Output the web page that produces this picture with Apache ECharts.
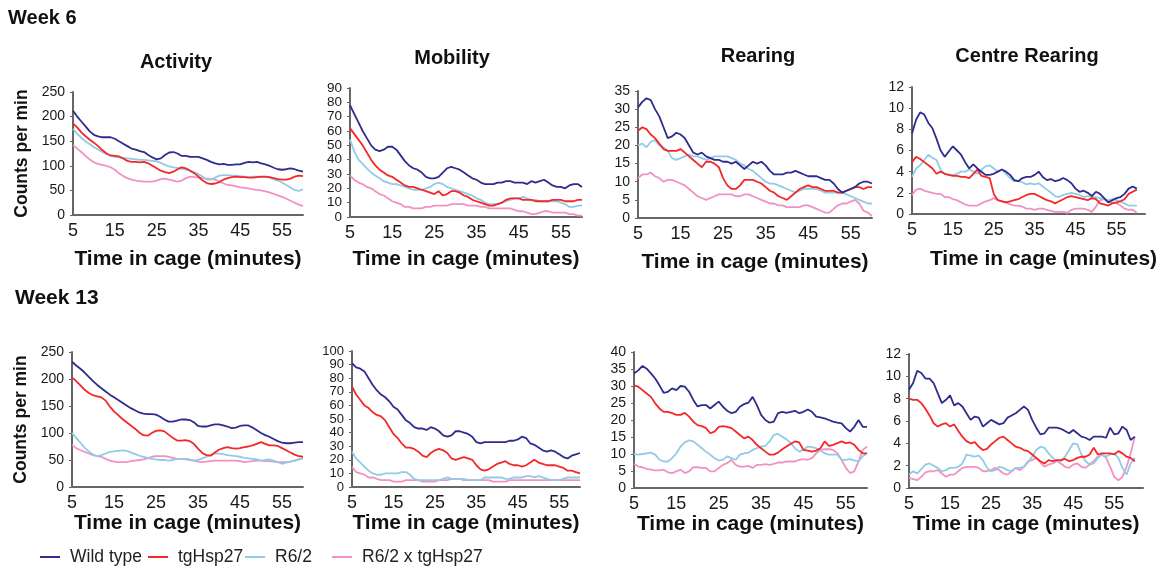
<!DOCTYPE html>
<html><head><meta charset="utf-8">
<script src="https://cdn.jsdelivr.net/npm/echarts@6/dist/echarts.min.js"></script>
<style>html,body{margin:0;padding:0;background:#fff;}#c{width:1168px;height:573px;}</style>
</head><body><div id="c"></div>
<script>
// ---------- DATA ----------
const minutes = [5,6,7,8,9,10,11,12,13,14,15,16,17,18,19,20,21,22,23,24,25,26,27,28,29,30,31,32,33,34,35,36,37,38,39,40,41,42,43,44,45,46,47,48,49,50,51,52,53,54,55,56,57,58,59,60];
const minutesExt = minutes.concat([61,62]);
const seriesNames = ['Wild type','tgHsp27','R6/2','R6/2 x tgHsp27'];

// Week 6
const act6_wt = [212,200,190,180,170,163,160,158,158,158,155,150,145,140,135,133,130,128,122,117,113,115,122,127,128,125,120,120,118,118,118,115,112,108,105,103,104,102,102,103,103,106,108,107,108,105,103,100,96,93,92,93,95,93,90,88];
const act6_tg = [186,178,168,160,153,147,140,132,125,121,120,119,115,110,108,108,107,108,105,100,95,90,87,85,88,93,97,95,90,85,78,70,65,63,64,67,72,75,77,78,77,77,76,76,77,78,78,77,75,73,72,72,74,78,80,79];
const act6_r62 = [175,165,157,150,144,138,133,128,124,120,118,117,116,115,114,113,112,112,111,110,109,106,102,99,97,96,94,92,90,87,83,78,72,72,76,80,81,81,80,80,79,78,77,78,78,77,77,76,73,70,66,61,56,51,49,52];
const act6_r62tg = [142,135,128,120,113,107,104,102,100,97,92,85,79,75,72,70,69,68,68,68,70,73,74,72,70,68,70,75,78,77,76,75,74,73,72,68,64,61,60,58,56,55,54,52,51,50,48,46,43,40,37,33,29,25,21,18];

const mob6_wt = [78,72,66,60,55,50,47,46,47,49,49,47,43,39,36,34,33,31,28,27,27,28,31,34,35,34,33,31,29,27,26,24,23,23,23,24,24,25,25,24,24,24,23,25,24,25,26,24,22,21,21,20,22,23,23,21];
const mob6_tg = [62,58,54,50,45,40,36,33,31,29,28,26,24,22,21,21,20,19,18,17,16,18,15,16,18,18,17,15,14,12,11,10,9,8,8,9,10,12,13,13,13,12,12,12,11,11,11,11,12,12,12,11,11,11,12,12];
const mob6_r62 = [54,46,40,37,34,31,29,27,25,24,23,23,22,21,20,19,19,19,20,21,23,24,23,21,20,19,18,17,16,15,13,12,10,9,9,9,10,11,12,13,13,14,13,12,12,11,11,11,11,11,10,9,7,7,8,8];
const mob6_r62tg = [29,26,24,23,21,20,18,16,15,13,11,10,9,7,7,6,6,6,7,7,8,8,8,8,9,9,9,9,8,8,8,7,7,6,6,6,6,6,6,5,4,4,3,2,2,3,4,4,3,3,3,3,2,2,1,1];

const rear6_wt = [30.5,32,33,32.5,30,28,25,22,22.5,23.5,23,22,20,18,17.5,18,17,16.5,16,16,15.5,15.5,15,15.5,14.5,13.5,14.5,15.5,15,15.5,14.5,13,12,12,12,12.5,12.5,13,12.5,12,11.5,11.5,11.5,11,10.5,10.5,9.5,8,7,7.5,8,8.5,9.5,10,10,9.5];
const rear6_tg = [24,25,24.5,23,22,20.5,19,18.5,18.5,18.5,19,18,17,16,15,14,15.5,15.5,15,14,11,9,8,8,9,10.5,10.5,10.5,10,9.5,8.5,7.5,7,6,5.5,5,6,7,8,8.5,9,8.5,8.5,8,7.5,7.5,7.5,7,7,7.5,8,8.5,8.5,8,8.5,8.5];
const rear6_r62 = [20,20.5,19.5,21,21.5,20,19.5,18.5,16.5,16,16.5,17,17.5,17,17,16.5,16,16.5,17,17,17,17,16.5,16,15,14.5,13.5,13,12,11,10,9.5,9.5,9,8.5,8,7.5,7,7.5,8,8,8,8,7.5,7,7,7,7,7,6.5,6,5.5,5,4.5,4,4];
const rear6_r62tg = [11,12,12,12.5,11.5,11,10,10.5,10.5,10,9.5,9,8,7,6,5.5,5,5.5,6,6.5,6.5,6.5,6.5,6,6,6.5,6.5,6,5.5,5,4.5,4,4,3.5,3.5,3,3,3,3,3.5,3.5,3,2.5,2,1.5,1.5,2.5,3.5,4,4,4.5,5,4,2,1.5,0.5];

const cen6_wt = [7.6,8.9,9.6,9.4,8.6,8.1,7.1,6,5.4,5.9,6.4,6,5.6,4.9,4.3,4.7,4.3,4,3.7,3.7,3.8,4,4.2,4,3.7,3.2,3.1,3.4,3.5,3.5,3.7,4,3.5,3.2,3.3,3.1,3.2,3.4,3.2,2.9,2.4,2.1,2.2,2,1.7,2.1,1.9,1.5,1.1,1.3,1.5,1.6,1.9,2.4,2.6,2.4];
const cen6_tg = [4.9,5.4,5.2,4.9,4.6,4.3,3.8,4,3.8,3.7,3.6,3.6,3.5,3.5,3.4,3.8,4.2,3.6,3.5,3.4,1.9,1.3,1.2,1.1,1.2,1.3,1.4,1.6,1.8,1.9,1.9,1.7,1.5,1.3,1.2,1,1.2,1.4,1.6,1.7,1.6,1.5,1.4,1.3,1.5,1.4,1,0.9,0.8,1,1.1,1.2,1.4,1.9,2.1,2.3];
const cen6_r62 = [3.5,4.3,4.6,5.1,5.6,5.3,5.1,4.2,3.8,3.7,3.7,3.8,4,4,4.2,4,3.8,4.2,4.5,4.6,4.3,4,4.2,3.8,3.4,3.1,3.1,3,2.8,2.9,2.8,2.9,2.6,2.3,2,1.7,1.6,1.8,1.9,2,1.9,1.8,1.6,1.7,1.6,1.6,1.5,1.4,1.3,1.4,1.3,1.2,1,0.8,0.8,0.8];
const cen6_r62tg = [1.8,2.3,2.4,2.2,2.1,2,1.9,1.9,1.6,1.6,1.4,1.3,1.1,0.9,0.8,0.8,0.8,1,1.2,1.3,1.5,1.3,1.2,1.1,0.9,0.8,0.8,0.7,0.5,0.5,0.4,0.5,0.5,0.4,0.3,0.2,0.2,0.2,0.1,0.4,0.5,0.5,0.5,0.4,0.2,0.7,1.3,1.4,1.2,1.1,1,0.8,0.5,0.4,0.4,0.1];

// Week 13
const act13_wt = [232,225,219,212,204,196,189,183,177,171,166,161,156,151,146,142,138,136,135,135,134,130,125,121,121,123,125,125,124,120,113,112,112,114,116,116,114,112,109,110,113,114,114,110,105,100,96,93,89,85,82,81,81,82,83,83];
const act13_tg = [203,196,188,180,174,170,168,166,160,149,140,133,126,120,114,108,101,96,95,100,104,105,103,97,91,86,86,87,85,80,71,63,59,58,64,69,72,74,72,71,72,74,75,77,80,83,80,77,77,76,72,68,64,60,57,56];
const act13_r62 = [100,91,82,73,66,60,57,59,62,65,66,67,68,67,64,61,58,56,54,52,51,50,50,49,50,52,52,51,50,49,50,53,56,59,62,62,61,59,58,57,56,54,53,52,51,49,50,51,49,46,43,45,47,49,51,53];
const act13_r62tg = [78,72,68,65,62,59,57,56,52,49,47,46,46,46,48,49,50,51,53,56,57,57,57,56,54,52,52,52,51,49,47,46,47,48,49,49,49,49,49,49,48,46,47,48,49,49,48,48,47,46,46,46,47,49,51,53];

const mob13_wt = [91,88,87,85,80,75,71,68,66,63,59,57,53,49,47,44,43,43,42,44,43,41,38,37,38,41,41,40,39,37,33,32,33,33,33,33,33,33,34,34,35,37,36,32,31,29,27,26,27,26,24,22,21,23,24,25];
const mob13_tg = [74,68,64,60,58,55,53,52,49,44,39,36,32,29,29,28,26,23,22,25,27,28,27,25,21,20,21,22,21,20,16,13,12,13,15,17,18,19,17,16,16,15,16,18,20,18,17,16,16,16,15,14,12,12,11,10];
const mob13_r62 = [26,21,18,15,12,10,9,9,10,10,10,10,11,11,9,6,5,5,5,5,5,5,6,7,6,6,6,6,5,5,5,5,7,7,7,7,7,6,6,7,7,7,8,8,7,8,7,6,5,5,5,6,7,7,7,7];
const mob13_r62tg = [15,11,10,9,7,7,6,5,5,5,4,4,4,5,5,5,5,4,4,4,4,5,5,5,6,6,6,5,5,5,5,5,5,5,4,4,4,4,5,5,5,5,5,5,5,5,5,5,5,5,5,5,5,5,5,5];

const rear13_wt = [33.7,34.6,35.9,35.1,33.7,32.2,30.2,28,28.3,29.3,28.8,30,29.8,28.3,25.9,24,24.4,24.4,23.4,24.4,25.4,23.9,22.7,22,22.4,23.9,24.7,25.1,26.8,24.4,21.5,20,19.2,19.5,22,22.4,22.1,22.4,22.7,22,22.4,23.1,22.4,21,20.8,20.5,20,19.5,19.2,19,17.6,16.6,18,20,18,18];
const rear13_tg = [30.2,29.8,28.8,27.8,26.8,24.9,23.4,22.4,22.4,22,21.5,21.5,22.1,21,19.5,18.5,18.2,17.6,16.1,16.6,18,18.2,18,17.6,16.6,15.6,14.6,15.1,14.1,12.7,11.7,10.7,9.8,9.8,10.4,11.4,12.2,13,13.7,13.4,11.2,11,10.7,11,11.7,13.7,12.4,12.7,13.2,13.7,13.2,13.4,12.7,11.2,10.2,10.2];
const rear13_r62 = [10,9.8,10,10.2,10.4,9.8,8.3,7.8,7.8,8.8,10.2,12.2,13.4,14,13.7,12.7,11.7,10.7,9.8,8.8,8.1,8.3,9.3,8.8,8.3,9.8,10.2,10.4,11.2,11.7,12.2,12.4,13.7,15.6,15.9,15.1,14.3,13.2,11.7,10.7,11.2,12.2,12,11.7,11,10.2,9.8,9.8,9.8,8.3,8.3,8.5,8.1,7.8,9.3,10.2];
const rear13_r62tg = [7.1,6.3,6.1,5.6,5.4,5.2,5.2,5.4,4.6,4.4,4.9,5.4,4.4,4.9,6.1,6.1,5.9,5.9,4.9,4.9,5.9,6.8,7.3,8.3,6.8,6.3,6.3,6.5,5.9,6.8,6.8,7,6.8,7.1,7.5,7.5,7.8,7.8,7.8,8.3,8.5,8.3,8.8,10.2,11.2,11.4,11.4,11.2,10.2,8.3,5.9,4.4,4.9,7.8,11.2,12.2];

const cen13_wt = [8.8,9.4,10.5,10.3,9.8,9.8,9.4,8.5,7.6,7.9,8.3,7.4,7.6,7.3,6.7,6.1,6.4,6.3,5.5,5.8,6.1,5.9,5.7,5.8,6.3,6.5,6.7,7,7.3,7,6.1,5.4,4.8,4.9,5.4,5.4,5.4,5.3,5.1,4.9,5.2,4.9,4.6,4.5,4.3,4.6,4.6,4.6,4.5,5.4,4.8,4.9,5.5,5.2,4.3,4.6];
const cen13_tg = [8,7.9,7.9,7.6,7.1,6.5,5.8,5.5,5.7,5.8,5.5,5.7,5.1,4.6,4.2,4,4.1,3.7,3.4,3.5,3.9,4.2,4.5,4.6,4.3,4,3.7,3.6,3.4,3.3,3,2.7,2.4,2.2,2.5,2.4,2.5,2.5,2.6,2.4,2.5,2.7,2.8,2.8,3,3.6,3,3.1,3.1,3.1,3,3.3,3.1,2.8,2.7,2.4];
const cen13_r62 = [1.2,1.5,1.3,1.7,2.1,2.2,2,1.8,1.5,1.6,1.8,1.8,1.9,2.2,3,2.9,2.8,2.9,2.5,1.8,1.5,1.6,1.9,1.8,1.6,1.5,1.8,1.8,1.9,2.3,2.8,3.4,3.7,3.6,3.1,2.7,2.4,2.4,2.8,3.4,4,3.9,3,2.4,2.1,2.2,2.7,3,2.8,3,3.1,2.7,1.8,1.2,2.2,2.7];
const cen13_r62tg = [0.9,0.8,0.7,1,1.4,1.5,1.5,1.6,1.3,1,1.2,1.2,1.5,1.8,1.9,1.9,1.9,1.8,1.5,1.5,1.6,1.8,1.6,1.3,1.2,1.5,1.8,1.6,1.9,2.4,2.5,2.7,2.3,1.9,2.1,2.2,2.4,2.2,1.9,1.8,2.1,2.2,1.9,1.8,2.1,2.4,2.8,3,2.7,1.9,1,0.7,1,1.9,3.1,4.6];

// ---------- LAYOUT / STYLE ----------
const FONT = 'Liberation Sans, Arial, Helvetica, sans-serif';
const colors = {'Wild type':'#2e2c8c','tgHsp27':'#f42828','R6/2':'#92cbe6','R6/2 x tgHsp27':'#f292c2'};
const drawOrder = [3,2,1,0];

const panels = [
  {title:'Activity', tx:176, ty:62, grid:{left:73,top:92,width:230,height:123}, max:250, interval:50, yFont:14, cats:minutes, data:[act6_wt,act6_tg,act6_r62,act6_r62tg], yName:true, nameGap:34, namePad:0},
  {title:'Mobility', tx:452, ty:58, grid:{left:350,top:88,width:232,height:129}, max:90, interval:10, yFont:13.5, cats:minutes, data:[mob6_wt,mob6_tg,mob6_r62,mob6_r62tg], nameGap:32, namePad:0},
  {title:'Rearing', tx:758, ty:56, grid:{left:638,top:91,width:234,height:127}, max:35, interval:5, yFont:14, cats:minutes, data:[rear6_wt,rear6_tg,rear6_r62,rear6_r62tg], nameGap:34, namePad:0},
  {title:'Centre Rearing', tx:1027, ty:56, grid:{left:912,top:87,width:233,height:127}, max:12, interval:2, yFont:14, cats:minutesExt, data:[cen6_wt,cen6_tg,cen6_r62,cen6_r62tg], nameGap:35, namePad:30},
  {title:null, grid:{left:72,top:352,width:231,height:135}, max:250, interval:50, yFont:14, cats:minutes, data:[act13_wt,act13_tg,act13_r62,act13_r62tg], yName:true, nameGap:25, namePad:0},
  {title:null, grid:{left:352,top:351,width:228,height:136}, max:100, interval:10, yFont:13, cats:minutes, data:[mob13_wt,mob13_tg,mob13_r62,mob13_r62tg], nameGap:25, namePad:0},
  {title:null, grid:{left:634,top:352,width:233,height:136}, max:40, interval:5, yFont:14, cats:minutes, data:[rear13_wt,rear13_tg,rear13_r62,rear13_r62tg], nameGap:25, namePad:0},
  {title:null, grid:{left:909,top:354,width:234,height:134}, max:12, interval:2, yFont:14, cats:minutesExt, data:[cen13_wt,cen13_tg,cen13_r62,cen13_r62tg], nameGap:25, namePad:0}
];

const grids = [], xAxes = [], yAxes = [], series = [], graphics = [];
const axisLine = {show:true, lineStyle:{color:'#666', width:2}};

panels.forEach((p, i) => {
  grids.push(Object.assign({}, p.grid));
  xAxes.push({
    type:'category', gridIndex:i, data:p.cats, boundaryGap:false,
    axisLine: axisLine, axisTick:{show:false},
    axisLabel:{interval:9, margin:7, fontSize:18, color:'#1a1a1a', fontFamily:FONT, hideOverlap:false},
    name:'Time in cage (minutes)', nameLocation:'middle', nameGap:p.nameGap,
    nameTextStyle:{fontSize:21, fontWeight:'bold', color:'#111', fontFamily:FONT, padding:[0,0,0,p.namePad]},
    splitLine:{show:false}
  });
  const y = {
    type:'value', gridIndex:i, min:0, max:p.max, interval:p.interval,
    axisLine: axisLine, axisTick:{show:true, length:3, lineStyle:{color:'#666'}},
    axisLabel:{margin:8, fontSize:p.yFont, color:'#1a1a1a', fontFamily:FONT, showMinLabel:true, showMaxLabel:true, hideOverlap:false},
    splitLine:{show:false}
  };
  if (p.yName) {
    y.name = 'Counts per min'; y.nameLocation = 'middle'; y.nameGap = 42;
    y.nameTextStyle = {fontSize:17.5, fontWeight:'bold', color:'#111', fontFamily:FONT};
  }
  yAxes.push(y);
  drawOrder.forEach(k => {
    series.push({
      type:'line', name:seriesNames[k], xAxisIndex:i, yAxisIndex:i,
      data:p.data[k], showSymbol:false, symbol:'none', smooth:false,
      lineStyle:{color:colors[seriesNames[k]], width:1.8},
      itemStyle:{color:colors[seriesNames[k]]},
      animation:false
    });
  });
  if (p.title) {
    graphics.push({type:'text', x:p.tx, y:p.ty, style:{text:p.title, font:'bold 20px ' + FONT, fill:'#111', textAlign:'center', textVerticalAlign:'middle'}});
  }
});

graphics.push({type:'text', x:8, y:18, style:{text:'Week 6', font:'bold 20px ' + FONT, fill:'#111', textAlign:'left', textVerticalAlign:'middle'}});
graphics.push({type:'text', x:15, y:298, style:{text:'Week 13', font:'bold 21px ' + FONT, fill:'#111', textAlign:'left', textVerticalAlign:'middle'}});

const legendPos = [40, 148, 245, 332];
const legends = seriesNames.map((n, k) => ({
  data:[n], left:legendPos[k], top:548, icon:'rect', itemWidth:20, itemHeight:2, itemGap:0, padding:0,
  textStyle:{fontSize:17.5, color:'#222', fontFamily:FONT, padding:[0,0,0,5]}
}));

const chart = echarts.init(document.getElementById('c'), null, {renderer:'canvas'});
chart.setOption({
  backgroundColor:'#ffffff',
  animation:false,
  grid:grids, xAxis:xAxes, yAxis:yAxes, series:series,
  legend:legends,
  graphic:graphics
});
</script>
</body></html>
